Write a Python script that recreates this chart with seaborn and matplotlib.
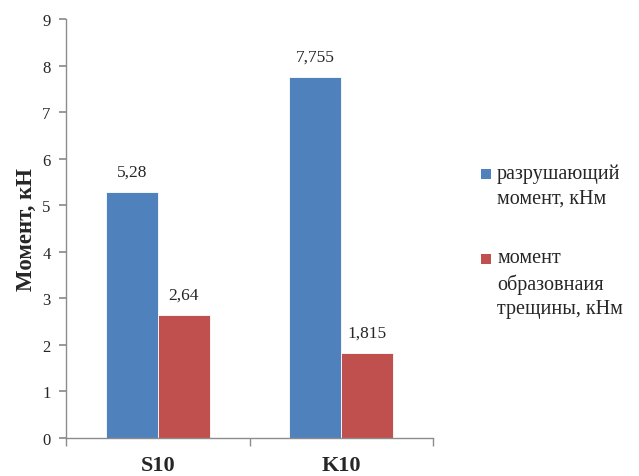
import matplotlib
matplotlib.use("Agg")
import matplotlib.pyplot as plt
import seaborn as sns
import pandas as pd
from matplotlib.patches import Rectangle

# данные
categories = ["S10", "K10"]
series_names = ["разрушающий\nмомент, кНм", "момент\nобразовнаия\nтрещины, кНм"]
destroy_moment = [5.28, 7.755]
crack_moment = [2.64, 1.815]
colors = ["#4F81BD", "#C0504D"]

df = pd.DataFrame({
    "cat": categories * 2,
    "serie": [series_names[0]] * 2 + [series_names[1]] * 2,
    "val": destroy_moment + crack_moment,
})

sns.set_theme(style="white")
SERIF = ['Liberation Serif', 'DejaVu Serif']
plt.rcParams['font.family'] = SERIF

fig = plt.figure(figsize=(6.39, 4.77), dpi=100)
ax = fig.add_axes([0.103, 0.080, 0.575, 0.878])

sns.barplot(data=df, x="cat", y="val", hue="serie", palette=colors,
            width=0.565, saturation=1, ax=ax, legend=False,
            edgecolor="white", linewidth=0.6)

# подписи значений
for cont in ax.containers:
    labels = [f"{v:g}".replace(".", ",") for v in cont.datavalues]
    ax.bar_label(cont, labels=labels, padding=9, fontsize=12.5)

ax.set_ylim(0, 9)
ax.set_yticks(range(0, 10))
ax.set_xlim(-0.5, 1.5)
ax.set_xlabel("")
ax.set_ylabel("Момент, кН", fontsize=16.5, fontweight="bold", labelpad=4)

for s in ["top", "right"]:
    ax.spines[s].set_visible(False)
for s in ["left", "bottom"]:
    ax.spines[s].set_color("#8c8c8c")
    ax.spines[s].set_linewidth(1)

ax.tick_params(axis="y", length=5, color="#8c8c8c", direction="out", left=True, labelsize=12, pad=6)
ax.tick_params(axis="x", which="major", length=0, labelsize=16, pad=12)
ax.set_xticks([-0.5, 0.5, 1.5], minor=True)
ax.tick_params(axis="x", which="minor", length=6, color="#8c8c8c", direction="out", bottom=True)
for t in ax.get_xticklabels():
    t.set_fontweight("bold")

# легенда: квадрат напротив первой строки
W, H = 639, 477
legend_rows = [175, 260]
for name, c, yc in zip(series_names, colors, legend_rows):
    fig.patches.append(Rectangle((481 / W, (H - yc - 5) / H), 10 / W, 10 / H,
                                 facecolor=c, edgecolor="none", transform=fig.transFigure))
    fig.text(497 / W, (H - yc + 11) / H, name, ha="left", va="top", fontsize=14.5,
             linespacing=1.4, transform=fig.transFigure)

fig.savefig("out.png", dpi=100)
